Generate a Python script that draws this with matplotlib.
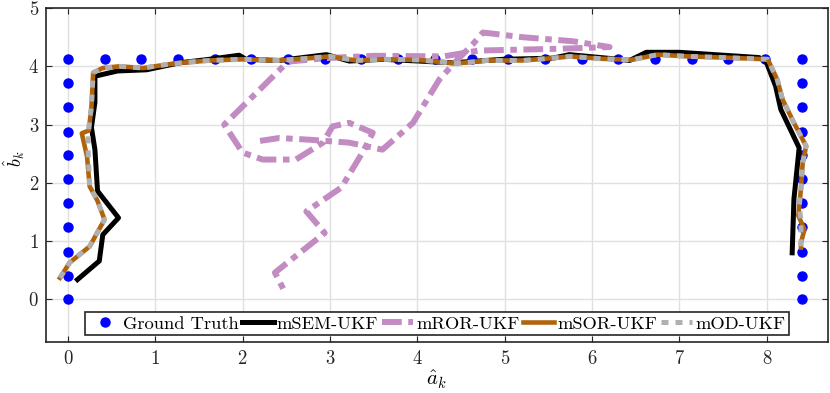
import matplotlib
matplotlib.use('Agg')
import matplotlib.pyplot as plt

# ground truth: rectangle perimeter
gt_x = [0, 0, 0, 0, 0, 0, 0, 0, 0, 0, 0,
        0.42, 0.84, 1.26, 1.68, 2.10, 2.52, 2.94, 3.36, 3.78, 4.20,
        4.62, 5.04, 5.46, 5.88, 6.30, 6.72, 7.14, 7.56, 7.98, 8.40,
        8.40, 8.40, 8.40, 8.40, 8.40, 8.40, 8.40, 8.40, 8.40, 8.40]
gt_y = [0.0, 0.41, 0.82, 1.24, 1.65, 2.06, 2.47, 2.88, 3.30, 3.71, 4.12,
        4.12, 4.12, 4.12, 4.12, 4.12, 4.12, 4.12, 4.12, 4.12, 4.12,
        4.12, 4.12, 4.12, 4.12, 4.12, 4.12, 4.12, 4.12, 4.12, 4.12,
        3.71, 3.30, 2.88, 2.47, 2.06, 1.65, 1.24, 0.82, 0.41, 0.0]

sem_x = [0.11, 0.36, 0.40, 0.58, 0.34, 0.31, 0.27, 0.31, 0.31, 0.57, 0.90,
         1.28, 1.62, 1.96, 2.04, 2.42, 2.96, 3.22, 3.60, 4.02, 4.40, 4.98,
         5.55, 5.74, 6.31, 6.43, 6.62, 7.00, 7.91, 7.99, 8.10, 8.16, 8.37,
         8.31, 8.29]
sem_y = [0.34, 0.66, 1.11, 1.40, 1.86, 2.57, 2.95, 3.38, 3.83, 3.92, 3.94,
         4.06, 4.12, 4.19, 4.12, 4.10, 4.20, 4.09, 4.12, 4.09, 4.06, 4.12,
         4.14, 4.20, 4.12, 4.10, 4.24, 4.24, 4.15, 4.09, 3.66, 3.26, 2.60,
         1.72, 0.80]

ror_x = [2.20, 2.42, 2.77, 3.22, 3.60, 3.95, 4.25, 4.45, 4.63, 4.75, 5.20,
         5.78, 6.20, 5.60, 5.00, 4.70, 4.30, 3.50, 2.95, 2.52, 1.79, 2.00,
         2.23, 2.61, 2.92, 3.03, 3.22, 3.49, 3.38, 3.13, 2.73, 2.94, 2.37,
         2.48]
ror_y = [2.72, 2.77, 2.74, 2.69, 2.57, 3.03, 3.77, 4.10, 4.37, 4.58, 4.50,
         4.43, 4.33, 4.30, 4.28, 4.27, 4.17, 4.18, 4.14, 4.08, 3.00, 2.52,
         2.40, 2.40, 2.69, 2.97, 3.03, 2.86, 2.54, 1.92, 1.51, 1.14, 0.46,
         0.14]

sor_x = [-0.09, 0.02, 0.25, 0.42, 0.34, 0.25, 0.22, 0.16, 0.24, 0.27, 0.29,
         0.40, 0.59, 0.86, 1.13, 1.30, 1.62, 2.00, 2.40, 2.70, 3.00, 3.30,
         3.60, 4.00, 4.45, 4.80, 5.20, 5.55, 5.75, 6.10, 6.45, 6.75, 7.10,
         7.50, 8.01, 8.12, 8.18, 8.31, 8.45, 8.41, 8.39, 8.36, 8.43, 8.39,
         8.39]
sor_y = [0.37, 0.63, 0.91, 1.37, 1.69, 1.94, 2.45, 2.85, 2.90, 3.30, 3.89,
         3.97, 4.00, 3.97, 4.03, 4.06, 4.10, 4.12, 4.10, 4.13, 4.17, 4.10,
         4.12, 4.11, 4.05, 4.10, 4.10, 4.14, 4.17, 4.13, 4.11, 4.20, 4.17,
         4.15, 4.12, 3.77, 3.43, 3.03, 2.63, 2.34, 1.89, 1.44, 1.20, 0.97,
         0.89]

od_x = [-0.09, 0.02, 0.25, 0.42, 0.34, 0.25, 0.23, 0.24, 0.27, 0.29, 0.40,
        0.59, 0.86, 1.13, 1.30, 1.62, 2.00, 2.40, 2.70, 3.00, 3.30, 3.60,
        4.00, 4.45, 4.80, 5.20, 5.55, 5.75, 6.10, 6.45, 6.75, 7.10, 7.50,
        8.01, 8.12, 8.18, 8.31, 8.45, 8.41, 8.39, 8.37, 8.39, 8.39]
od_y = [0.37, 0.63, 0.91, 1.37, 1.69, 1.94, 2.63, 2.95, 3.30, 3.89, 3.97,
        4.00, 3.97, 4.03, 4.06, 4.10, 4.12, 4.10, 4.13, 4.17, 4.10, 4.12,
        4.11, 4.05, 4.10, 4.10, 4.14, 4.17, 4.13, 4.11, 4.20, 4.17, 4.15,
        4.12, 3.77, 3.43, 3.03, 2.63, 2.34, 1.89, 1.60, 1.37, 0.89]

x_ticks = [0, 1, 2, 3, 4, 5, 6, 7, 8]
y_ticks = [0, 1, 2, 3, 4, 5]

plt.rcParams['font.family'] = ['cmr10', 'DejaVu Serif']
plt.rcParams['mathtext.fontset'] = 'cm'
plt.rcParams['axes.formatter.use_mathtext'] = True

fig = plt.figure(figsize=(8.3, 3.93), dpi=100)
ax = fig.add_axes([0.0554, 0.1298, 0.9422, 0.8498])

ax.plot(gt_x, gt_y, 'o', color='#0000ff', markersize=6.5, linestyle='none',
        label='Ground Truth', zorder=2)
ax.plot(sem_x, sem_y, color='black', lw=3.6, label='mSEM-UKF', zorder=3)
ax.plot(ror_x, ror_y, color='#c28bc2', lw=4.3, dashes=(3.3, 1.1, 1.1, 1.1),
        dash_capstyle='butt', label='mROR-UKF', zorder=4)
ax.plot(sor_x, sor_y, color='#b0650c', lw=3.3, label='mSOR-UKF', zorder=5)
ax.plot(od_x, od_y, color='#b0b0b0', lw=3.6, dashes=(1.4, 1.4),
        dash_capstyle='butt', label='mOD-UKF', zorder=6)

ax.set_xlim(-0.25, 8.7)
ax.set_ylim(-0.73, 5)
ax.set_xticks(x_ticks)
ax.set_yticks(y_ticks)
ax.grid(True, color='#e0e0e0', lw=1.0)
ax.set_axisbelow(True)
ax.tick_params(direction='in', top=True, right=True, labelsize=13.5,
               length=4, width=0.8, colors='#262626', pad=6)
ax.tick_params(axis='y', pad=5)
for s in ax.spines.values():
    s.set_linewidth(1.2)
    s.set_color('#262626')

ax.set_xlabel(r'$\hat{a}_k$', fontsize=15, labelpad=0)
ax.set_ylabel(r'$\hat{b}_k$', fontsize=13)
ax.yaxis.set_label_coords(-0.024, 0.55)

leg = ax.legend(loc='lower center', bbox_to_anchor=(0.5, 0.02), ncol=5,
                fontsize=13.3, handlelength=1.7, handletextpad=0.15,
                columnspacing=0.2, borderpad=0.2, borderaxespad=0,
                fancybox=False, framealpha=1, edgecolor='#262626')
leg.get_frame().set_linewidth(1.2)

fig.savefig('out.png', dpi=100)
